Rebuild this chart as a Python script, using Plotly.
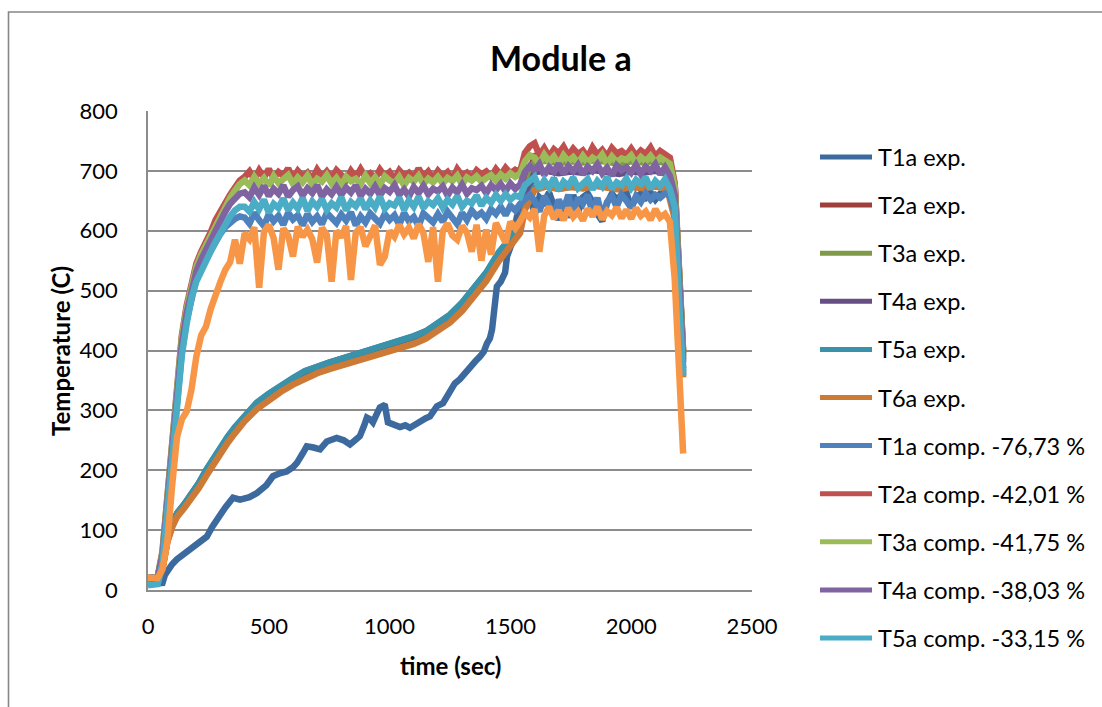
import plotly.graph_objects as go

# ---------------------------------------------------------------------------
# Data: measured (exp.) and computed (comp.) temperatures for module a
# ---------------------------------------------------------------------------

# sampling grid used by the computed series (s)
COMP_TIME = list(range(0, 2161, 20)) + [2180, 2200, 2215]

T1A_COMP = [
    12, 12, 14, 50, 138, 240, 325, 398, 450, 492,
    520, 538, 553, 568, 582, 595, 606, 615, 620, 624,
    622, 612, 630, 618, 608, 628, 616, 625, 610, 630,
    619, 626, 609, 628, 615, 624, 611, 630, 620, 613,
    627, 617, 631, 609, 624, 614, 629, 619, 612, 628,
    618, 626, 610, 630, 616, 623, 608, 629, 621, 614,
    628, 615, 632, 620, 611, 630, 618, 634, 624, 630,
    620, 636, 628, 640, 626, 642, 634, 645, 652, 660,
    650, 632, 658, 640, 625, 652, 636, 660, 628, 655,
    645, 660, 630, 655, 622, 648, 658, 640, 660, 650,
    638, 658, 648, 662, 652, 660, 655, 662, 660,
    630, 470, 365,
]
T2A_COMP = [
    20, 20, 22, 65, 160, 265, 350, 425, 475, 515,
    545, 565, 580, 598, 618, 633, 648, 660, 672, 684,
    690, 699, 686, 701, 689, 703, 688, 698, 692, 704,
    687, 700, 691, 697, 686, 702, 690, 699, 688, 701,
    693, 685, 700, 689, 703, 690, 696, 687, 702, 691,
    698, 686, 701, 692, 697, 688, 704, 690, 699, 687,
    700, 691, 698, 686, 703, 692, 697, 689, 701, 694,
    699, 690, 703, 693, 705, 696, 702, 698, 730, 741,
    746, 726, 738, 724, 736, 729, 740, 725, 737, 728,
    734, 723, 739, 727, 735, 724, 738, 729, 733, 726,
    737, 725, 734, 728, 739, 724, 733, 727, 722,
    680, 520, 400,
]
T3A_COMP = [
    20, 20, 22, 62, 155, 258, 345, 420, 470, 510,
    540, 560, 576, 594, 613, 628, 643, 655, 667, 678,
    684, 676, 690, 679, 688, 675, 691, 680, 686, 693,
    678, 689, 681, 692, 677, 687, 682, 693, 679, 688,
    676, 690, 683, 687, 678, 692, 680, 689, 677, 691,
    684, 679, 690, 676, 688, 682, 692, 678, 687, 681,
    690, 679, 688, 683, 692, 677, 689, 684, 691, 682,
    688, 693, 684, 694, 687, 696, 690, 695, 716, 726,
    722, 712, 727, 715, 724, 711, 726, 716, 723, 713,
    725, 714, 722, 717, 727, 712, 724, 715, 721, 718,
    726, 713, 723, 716, 725, 714, 722, 717, 712,
    675, 515, 395,
]
T4A_COMP = [
    20, 20, 21, 58, 148, 250, 336, 410, 462, 502,
    532, 552, 568, 586, 604, 618, 632, 645, 655, 662,
    664, 656, 672, 660, 675, 658, 670, 662, 676, 657,
    668, 674, 659, 671, 663, 676, 657, 669, 661, 673,
    660, 672, 664, 676, 658, 670, 662, 674, 659, 671,
    665, 676, 660, 669, 657, 673, 663, 675, 661, 670,
    666, 674, 659, 672, 664, 677, 662, 671, 668, 675,
    663, 676, 668, 678, 666, 679, 670, 677, 698, 708,
    700, 711, 693, 706, 698, 712, 695, 708, 699, 710,
    694, 707, 700, 711, 696, 705, 692, 709, 701, 706,
    697, 710, 695, 707, 700, 711, 694, 706, 692,
    660, 505, 385,
]
T5A_COMP = [
    8, 8, 10, 45, 130, 232, 318, 392, 445, 488,
    515, 534, 550, 566, 582, 598, 612, 624, 634, 640,
    640, 632, 648, 636, 652, 630, 645, 638, 654, 634,
    647, 637, 655, 633, 649, 640, 653, 635, 646, 639,
    656, 634, 648, 641, 654, 636, 650, 639, 657, 637,
    646, 642, 655, 635, 651, 640, 657, 638, 649, 643,
    654, 639, 652, 644, 658, 640, 650, 646, 659, 642,
    655, 647, 660, 650, 661, 652, 659, 656, 676, 684,
    690, 670, 684, 672, 688, 668, 682, 675, 689, 671,
    680, 686, 669, 683, 674, 690, 670, 681, 676, 687,
    672, 685, 678, 689, 670, 683, 675, 686, 670,
    640, 470, 358,
]
T6A_COMP = [
    20, 20, 20, 35, 80, 175, 255, 285, 298, 335,
    390, 425, 440, 470, 495, 515, 535, 548, 585, 545,
    596, 586, 606, 505, 598, 610, 588, 535, 604, 592,
    557, 607, 590, 602, 586, 547, 605, 593, 515, 600,
    589, 608, 518, 597, 606, 574, 591, 609, 543, 557,
    600, 590, 610, 594, 605, 587, 611, 596, 548, 606,
    515, 599, 612, 592, 585, 608, 597, 565, 610, 550,
    602, 560, 613, 598, 580, 615, 604, 616, 630, 622,
    636, 565, 625, 640, 620, 634, 618, 638, 623, 632,
    617, 637, 624, 640, 619, 633, 626, 639, 621, 635,
    620, 638, 625, 632, 618, 636, 622, 628, 615,
    520, 320, 228,
]

# sampling grid used by thermocouples T2a..T6a (s)
EXP_TIME = [
    0, 20, 40, 60, 80, 100, 120, 150, 180, 210, 240, 270, 300, 330, 360,
    400, 450, 500, 550, 600, 650, 700, 750, 800, 850, 900, 950, 1000, 1050,
    1100, 1150, 1200, 1250, 1300, 1350, 1400, 1450, 1500, 1540, 1560, 1600,
    1650, 1700, 1750, 1800, 1850, 1900, 1950, 2000, 2050, 2100, 2150, 2180,
    2200, 2215,
]
T2A_EXP = [
    15, 15, 16, 37, 82, 107, 125, 140, 157, 175, 196, 216, 236, 252, 268,
    287, 307, 322, 336, 348, 359, 366, 373, 379, 385, 391, 397, 402, 408,
    415, 424, 436, 451, 471, 496, 522, 554, 582, 600, 665, 725,
    727, 723, 726, 724, 728, 725, 722, 726, 724, 727, 722, 675,
    515, 395,
]
T3A_EXP = [
    15, 15, 16, 38, 83, 108, 126, 141, 158, 176, 197, 217, 237, 253, 269,
    289, 309, 324, 338, 350, 361, 369, 376, 382, 388, 394, 400, 405, 411,
    418, 427, 439, 454, 474, 499, 525, 557, 585, 603, 660, 715,
    717, 713, 716, 714, 718, 715, 712, 716, 714, 717, 712, 665,
    510, 390,
]
T4A_EXP = [
    15, 15, 16, 38, 84, 110, 128, 143, 160, 178, 199, 219, 239, 255, 271,
    291, 312, 327, 341, 353, 365, 373, 380, 386, 392, 398, 404, 409, 416,
    423, 432, 444, 459, 479, 504, 529, 561, 588, 606, 650, 698,
    700, 696, 699, 697, 701, 698, 695, 699, 697, 700, 695, 650,
    500, 380,
]
T5A_EXP = [
    15, 15, 16, 40, 85, 110, 128, 143, 160, 178, 200, 220, 240, 256, 272,
    292, 313, 328, 342, 354, 366, 374, 380, 386, 392, 398, 405, 410, 416,
    424, 432, 445, 460, 480, 505, 530, 563, 590, 608, 640, 672,
    675, 670, 674, 671, 676, 673, 670, 674, 672, 675, 670, 630,
    465, 360,
]
T6A_EXP = [
    14, 14, 15, 35, 80, 105, 122, 137, 153, 170, 190, 210, 230, 246, 262,
    282, 302, 317, 331, 343, 354, 362, 369, 375, 381, 387, 393, 398, 404,
    411, 420, 432, 447, 466, 490, 516, 548, 576, 596, 635, 668,
    674, 670, 673, 671, 675, 672, 669, 673, 671, 674, 669, 620,
    455, 355,
]

# thermocouple T1a has its own, irregular sampling (s)
T1A_EXP_TIME = [
    0, 40, 60, 70, 83, 100, 119, 150, 174, 210, 243, 265, 285, 320, 352,
    381, 420, 451, 490, 517, 545, 574, 600, 616, 640, 657, 685, 712, 740,
    760, 781, 810, 836, 857, 877, 895, 906, 920, 931, 948, 960, 975, 981,
    993, 1015, 1043, 1065, 1084, 1105, 1126, 1150, 1167, 1185, 1196, 1221,
    1235, 1250, 1270, 1291, 1310, 1333, 1355, 1374, 1390, 1403, 1415, 1424,
    1432, 1444, 1460, 1478, 1486, 1507, 1527, 1545, 1560, 1580, 1600, 1620,
    1640, 1660, 1680, 1700, 1720, 1740, 1760, 1780, 1800, 1820, 1840, 1860,
    1880, 1900, 1920, 1940, 1960, 1980, 2000, 2020, 2040, 2060, 2080, 2100,
    2120, 2140, 2160, 2180, 2200, 2215,
]
T1A_EXP = [
    10, 10, 12, 25, 34, 43, 51, 60, 67, 78, 89, 105, 118, 138, 154,
    151, 155, 162, 175, 190, 195, 198, 205, 212, 228, 240, 238, 235, 248,
    250, 254, 250, 243, 250, 257, 275, 288, 285, 280, 295, 305, 308, 307,
    280, 276, 272, 275, 271, 276, 282, 287, 290, 300, 307, 312,
    322, 335, 345, 352, 362, 374, 382, 390, 398, 412, 420, 435,
    470, 507, 515, 530, 557, 580, 624, 640, 655, 662, 626, 656,
    648, 664, 638, 618, 646, 622, 660, 630, 656, 662, 648, 628,
    616, 646, 662, 652, 660, 664, 638, 656, 662, 655, 664, 652,
    662, 666, 660, 640, 480, 370,
]

EXP_NAMES = ["T1a exp.", "T2a exp.", "T3a exp.", "T4a exp.", "T5a exp.", "T6a exp."]
COMP_NAMES = [
    "T1a comp. -76,73 %", "T2a comp. -42,01 %", "T3a comp. -41,75 %",
    "T4a comp. -38,03 %", "T5a comp. -33,15 %", "T6a comp.",
]
EXP_COLORS = ["#3D6A9E", "#9E3F3C", "#7F9A48", "#654F85", "#3A92AA", "#CD7A37"]
COMP_COLORS = ["#4F81BD", "#C0504D", "#9BBB59", "#8064A2", "#4BACC6", "#F79646"]

# ---------------------------------------------------------------------------
# Geometry (pixels)
# ---------------------------------------------------------------------------
FIG_W, FIG_H = 1102, 707
PLOT_L, PLOT_R = 148, 752
PLOT_T, PLOT_B = 111, 590
PW, PH = PLOT_R - PLOT_L, PLOT_B - PLOT_T


def px_x(px):
    return (px - PLOT_L) / PW


def px_y(py):
    return (PLOT_B - py) / PH


FONT = "Lato"
GRID = "#8C8C8C"
LINE_W = 6.5

fig = go.Figure()

exp_series = [
    (T1A_EXP_TIME, T1A_EXP),
    (EXP_TIME, T2A_EXP),
    (EXP_TIME, T3A_EXP),
    (EXP_TIME, T4A_EXP),
    (EXP_TIME, T5A_EXP),
    (EXP_TIME, T6A_EXP),
]
comp_series = [T1A_COMP, T2A_COMP, T3A_COMP, T4A_COMP, T5A_COMP, T6A_COMP]

for (tx, ty), name, col in zip(exp_series, EXP_NAMES, EXP_COLORS):
    fig.add_trace(go.Scatter(x=tx, y=ty, mode="lines", name=name,
                             line=dict(color=col, width=LINE_W),
                             showlegend=False))
for ty, name, col in zip(comp_series, COMP_NAMES, COMP_COLORS):
    fig.add_trace(go.Scatter(x=COMP_TIME, y=ty, mode="lines", name=name,
                             line=dict(color=col, width=LINE_W),
                             showlegend=False))

# legend drawn as line samples + labels (only the first eleven entries fit)
shapes = []
annotations = []
LEG_Y0, LEG_DY = 157, 48.1
legend_items = list(zip(EXP_NAMES + COMP_NAMES, EXP_COLORS + COMP_COLORS))[:11]
for i, (name, col) in enumerate(legend_items):
    yy = px_y(LEG_Y0 + i * LEG_DY)
    shapes.append(dict(type="line", xref="paper", yref="paper",
                       x0=px_x(820), x1=px_x(872), y0=yy, y1=yy,
                       line=dict(color=col, width=5)))
    annotations.append(dict(text=name, xref="paper", yref="paper",
                            x=px_x(876), y=yy, xanchor="left", yanchor="middle",
                            showarrow=False,
                            font=dict(family=FONT, size=23.5, color="#000000")))

# chart frame
shapes.append(dict(type="rect", xref="paper", yref="paper",
                   x0=px_x(8.5), x1=px_x(1120), y0=px_y(12), y1=px_y(730),
                   line=dict(color="#868686", width=1.6)))

annotations += [
    dict(text="<b>Module a</b>", xref="paper", yref="paper",
         x=px_x(561), y=px_y(57), xanchor="center", yanchor="middle",
         showarrow=False, font=dict(family=FONT, size=34, color="#000000")),
    dict(text="<b>time (sec)</b>", xref="paper", yref="paper",
         x=px_x(450), y=px_y(665), xanchor="center", yanchor="middle",
         showarrow=False, font=dict(family=FONT, size=24, color="#000000")),
    dict(text="<b>Temperature (C)</b>", xref="paper", yref="paper",
         x=px_x(60), y=px_y(351), xanchor="center", yanchor="middle",
         textangle=-90, showarrow=False,
         font=dict(family=FONT, size=24, color="#000000")),
]

fig.update_layout(
    width=FIG_W, height=FIG_H, autosize=False,
    margin=dict(l=PLOT_L, r=FIG_W - PLOT_R, t=PLOT_T, b=FIG_H - PLOT_B, pad=0),
    paper_bgcolor="white", plot_bgcolor="white",
    showlegend=False,
    shapes=shapes, annotations=annotations,
    font=dict(family=FONT, size=22, color="#000000"),
)
fig.update_xaxes(range=[0, 2500], tick0=0, dtick=500, showgrid=False,
                 zeroline=False, showline=True, linecolor=GRID, linewidth=1.6,
                 ticks="", ticklabelstandoff=16,
                 tickfont=dict(family=FONT, size=22, color="#000000"))
fig.update_yaxes(range=[0, 800], tick0=0, dtick=100, showgrid=True,
                 gridcolor=GRID, gridwidth=1.6, zeroline=False,
                 showline=True, linecolor=GRID, linewidth=1.6,
                 ticks="", ticklabelstandoff=24,
                 tickfont=dict(family=FONT, size=22, color="#000000"))

fig.write_html("out.html")
